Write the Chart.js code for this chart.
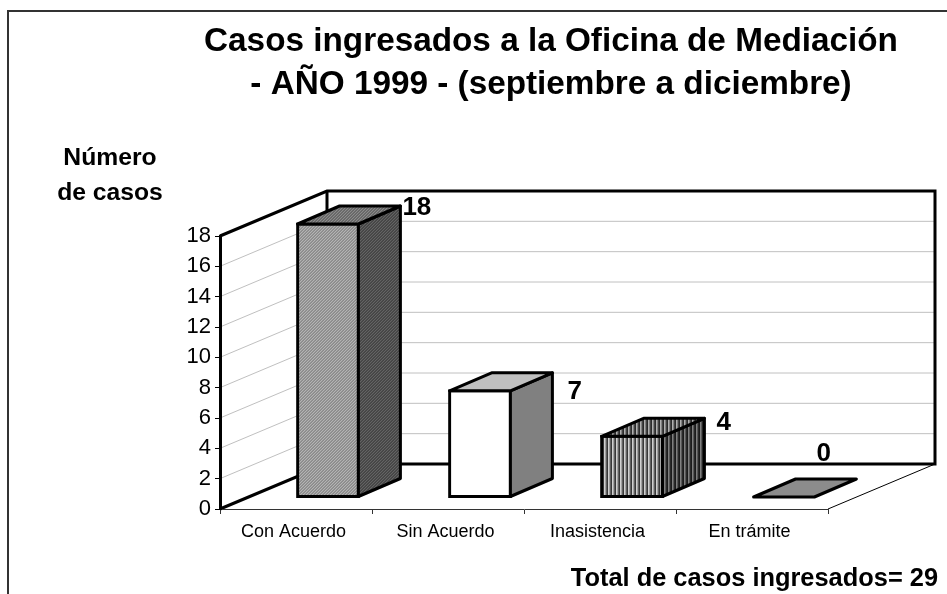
<!DOCTYPE html>
<html><head><meta charset="utf-8">
<style>html,body{margin:0;padding:0;background:#fff;overflow:hidden}canvas{display:block}</style>
<script src="https://cdn.jsdelivr.net/npm/chart.js@4"></script></head>
<body><canvas id="c" width="947" height="594"></canvas>
<script>
const categories = ["Con Acuerdo","Sin Acuerdo","Inasistencia","En trámite"];
const casos = [18,7,4,0];
const yTickMax = 18;
const titleLines = ["Casos ingresados a la Oficina de Mediación","- AÑO 1999 - (septiembre a diciembre)"];
const yTitleLines = ["Número","de casos"];
const totalLabel = "Total de casos ingresados= 29";

const FONT = '"Liberation Sans", Arial, sans-serif';
function stripes(colors, diag){
  const n = colors.length, c = document.createElement('canvas');
  c.width = n; c.height = diag ? n : 1;
  const g = c.getContext('2d');
  for(let i=0;i<n;i++){ for(let j=0;j<(diag?n:1);j++){ g.fillStyle = colors[(i+j)%n]; g.fillRect(i,j,1,1);} }
  return g.createPattern(c,'repeat');
}
const faces = [
  {front:stripes(['#b4b4b4','#969696','#8a8a8a'],true), side:stripes(['#646464','#4c4c4c','#444444'],true), top:stripes(['#8c8c8c','#6e6e6e','#666666'],true)},
  {front:'#ffffff', side:'#808080', top:'#c0c0c0'},
  {front:stripes(['#d0d0d0','#a0a0a0','#606060','#383838']), side:stripes(['#808080','#585858','#2a2a2a','#1c1c1c']), top:stripes(['#b0b0b0','#808080','#444444','#2c2c2c'])},
  {front:'#8c8c8c', side:'#8c8c8c', top:'#8c8c8c'}
];
// 3D projection
const wall = {dx:107, dy:-45}, bar3d = {sx:32, sy:-12, dx:42, dy:-18};
const labelShift = [[2,2],[15,19],[12,4],[-40,-25]];

function line(ctx,pts,w,col){
  ctx.beginPath(); pts.forEach((p,i)=> i?ctx.lineTo(p[0],p[1]):ctx.moveTo(p[0],p[1]));
  ctx.lineWidth=w; ctx.strokeStyle=col; ctx.stroke();
}
const scene = {
  id:'scene',
  beforeDraw(chart){
    const {ctx,chartArea:a,scales:{y}} = chart, {dx,dy}=wall;
    ctx.save();
    ctx.fillStyle='#fff'; ctx.fillRect(0,0,chart.width,chart.height);
    line(ctx,[[8,594],[8,11],[947,11]],2,'#333');
    y.ticks.forEach(t=>{
      if(t.value===0||t.value===yTickMax) return;
      const p=y.getPixelForValue(t.value);
      line(ctx,[[a.left,p],[a.left+dx,p+dy],[a.right+dx,p+dy]],1,'#c0c0c0');
    });
    ctx.lineJoin='miter';
    line(ctx,[[a.left,a.top],[a.left+dx,a.top+dy],[a.right+dx,a.top+dy],[a.right+dx,a.bottom+dy],[a.left+dx,a.bottom+dy],[a.left,a.bottom]],3,'#000');
    line(ctx,[[a.left+dx,a.top+dy],[a.left+dx,a.bottom+dy]],3,'#000');
    line(ctx,[[a.right,a.bottom],[a.right+dx,a.bottom+dy]],1,'#000');
    ctx.restore();
  },
  beforeDatasetDraw(chart){ chart.ctx.save(); chart.ctx.translate(bar3d.sx,bar3d.sy); },
  afterDatasetDraw(chart){
    const ctx=chart.ctx; ctx.restore();
    const {sx,sy,dx,dy}=bar3d, bars=chart.getDatasetMeta(0).data;
    ctx.save(); ctx.lineJoin='round'; ctx.lineWidth=3; ctx.strokeStyle='#000';
    bars.forEach((b,i)=>{
      const p=b.getProps(['x','y','base','width'],true);
      const L=p.x-p.width/2+sx, R=p.x+p.width/2+sx, T=p.y+sy, B=p.base+sy;
      const poly=(pts,fill)=>{ctx.beginPath();pts.forEach((q,k)=>k?ctx.lineTo(q[0],q[1]):ctx.moveTo(q[0],q[1]));ctx.closePath();ctx.fillStyle=fill;ctx.fill();ctx.stroke();};
      if(B-T>0) poly([[R,T],[R+dx,T+dy],[R+dx,B+dy],[R,B]],faces[i].side);
      poly([[L,T],[L+dx,T+dy],[R+dx,T+dy],[R,T]],faces[i].top);
      ctx.save(); ctx.fillStyle='#000'; ctx.font='bold 26px '+FONT; ctx.textAlign='left'; ctx.textBaseline='middle';
      ctx.fillText(String(casos[i]), R+dx+labelShift[i][0], T+dy+labelShift[i][1]);
      ctx.restore();
    });
    ctx.restore();
  },
  afterDraw(chart){
    const ctx=chart.ctx;
    ctx.save(); ctx.fillStyle='#000'; ctx.textBaseline='alphabetic';
    ctx.textAlign='center'; ctx.font='bold 33.3px '+FONT;
    ctx.fillText(titleLines[0],551,51); ctx.fillText(titleLines[1],551,94);
    ctx.font='bold 24.7px '+FONT;
    ctx.fillText(yTitleLines[0],110,165); ctx.fillText(yTitleLines[1],110,200);
    ctx.textAlign='right'; ctx.font='bold 25.4px '+FONT;
    ctx.fillText(totalLabel,938,586);
    ctx.restore();
  }
};
new Chart(document.getElementById('c'),{
  type:'bar',
  data:{labels:categories,datasets:[{label:'Casos',data:casos,
    backgroundColor:faces.map(f=>f.front),borderColor:'#000',borderWidth:3,borderSkipped:false,inflateAmount:1.5,
    categoryPercentage:1,barPercentage:0.4,clip:false}]},
  options:{
    responsive:false,animation:false,
    layout:{padding:{left:0,top:236,right:119,bottom:0}},
    plugins:{legend:{display:false},title:{display:false},tooltip:{enabled:false}},
    scales:{
      x:{afterFit(s){s.height=85;},
        grid:{drawOnChartArea:false,tickLength:5,color:'#333',lineWidth:1},
        border:{color:'#333',width:1},
        ticks:{color:'#000',font:{family:FONT,size:18},padding:7,labelOffset:-2.5,maxRotation:0,autoSkip:false}},
      y:{min:0,max:yTickMax,afterFit(s){s.width=220;},
        grid:{drawOnChartArea:false,tickLength:5,color:'#000',lineWidth:1},
        border:{color:'#000',width:3},
        ticks:{stepSize:2,color:'#000',font:{family:FONT,size:22},padding:4}}
    }
  },
  plugins:[scene]
});
</script></body></html>
